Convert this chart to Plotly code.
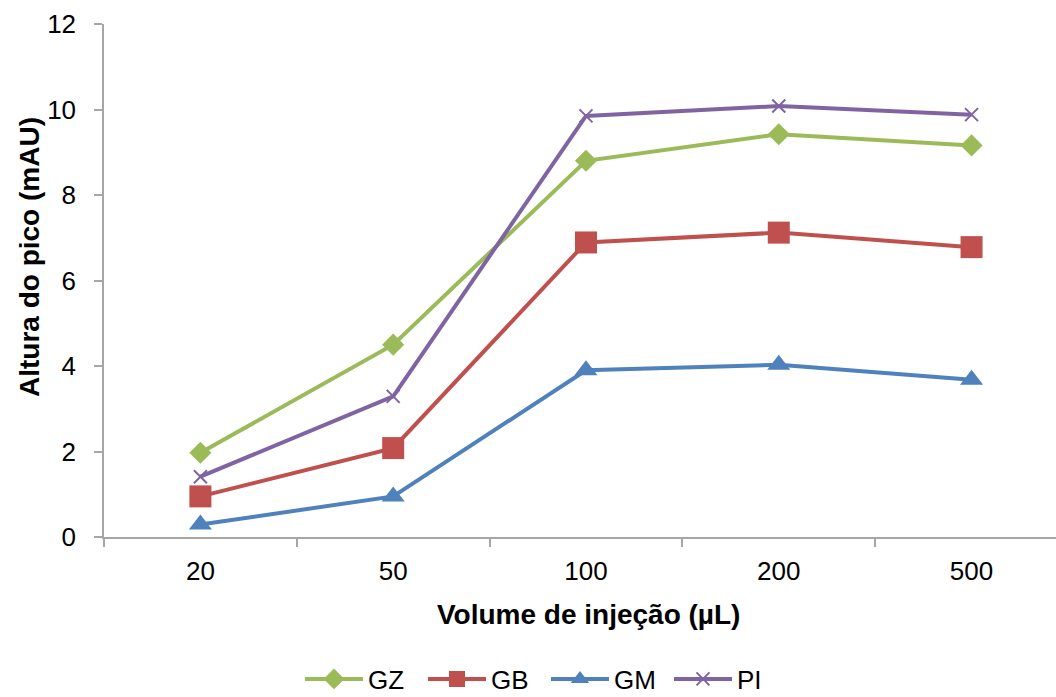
import plotly.graph_objects as go

categories = ["20", "50", "100", "200", "500"]
gz = [1.97, 4.50, 8.80, 9.42, 9.16]
gb = [0.95, 2.08, 6.89, 7.12, 6.78]
gm = [0.29, 0.95, 3.90, 4.03, 3.68]
pi = [1.41, 3.29, 9.85, 10.08, 9.88]

y_ticks = [0, 2, 4, 6, 8, 10, 12]

W, H = 1056, 697
ML, MR, MT, MB = 104, 0, 24, 160
FONT = "Arial, 'Liberation Sans', sans-serif"
AXC = "#A6A6A6"

fig = go.Figure()
series = [
    ("GZ", gz, "#9BBB59", dict(symbol="diamond", size=17)),
    ("GB", gb, "#C0504D", dict(symbol="square", size=22)),
    ("GM", gm, "#4F81BD", dict(symbol="triangle-up", size=20)),
    ("PI", pi, "#8064A2", dict(symbol="x-thin", size=13)),
]
for name, vals, col, mk in series:
    m = dict(color=col, **mk)
    if mk["symbol"] == "x-thin":
        m["line"] = dict(color=col, width=2)
    else:
        m["line"] = dict(width=0)
    fig.add_trace(go.Scatter(
        x=categories, y=vals, name=name, mode="lines+markers",
        line=dict(color=col, width=4), marker=m, cliponaxis=False,
    ))

pw = W - ML - MR
ph = H - MT - MB

def px_x(px):
    return (px - ML) / pw

def px_y(py):
    return (H - MB - py) / ph

fig.update_layout(
    width=W, height=H,
    margin=dict(l=ML, r=MR, t=MT, b=MB, pad=0),
    paper_bgcolor="white", plot_bgcolor="white",
    font=dict(family=FONT, size=26, color="black"),
    showlegend=True,
    legend=dict(
        orientation="h", xref="container", yref="container",
        x=300 / W, xanchor="left", y=(H - 679) / H, yanchor="middle",
        font=dict(size=26), itemwidth=58, tracegroupgap=0,
        entrywidth=50,
    ),
    xaxis=dict(
        type="category", range=[-0.5, 4.438],
        showline=True, linecolor=AXC, linewidth=1.5,
        ticks="outside", ticklen=8, tickcolor=AXC, tickwidth=1.5,
        tickson="boundaries", showgrid=False, zeroline=False,
        tickfont=dict(size=26), ticklabelstandoff=10,
    ),
    yaxis=dict(
        range=[0, 12], tickvals=y_ticks,
        showline=True, linecolor=AXC, linewidth=1.5,
        ticks="outside", ticklen=8, tickcolor=AXC, tickwidth=1.5,
        showgrid=False, zeroline=False,
        tickfont=dict(size=26), ticklabelstandoff=13,
    ),
    annotations=[
        dict(text="<b>Volume de injeção (µL)</b>", xref="paper", yref="paper",
             x=px_x(588), y=px_y(615), xanchor="center", yanchor="middle",
             showarrow=False, font=dict(size=28)),
        dict(text="<b>Altura do pico (mAU)</b>", xref="paper", yref="paper",
             x=px_x(29), y=px_y(257), xanchor="center", yanchor="middle",
             textangle=-90, showarrow=False, font=dict(size=28)),
    ],
)

fig.write_html("out.html")
